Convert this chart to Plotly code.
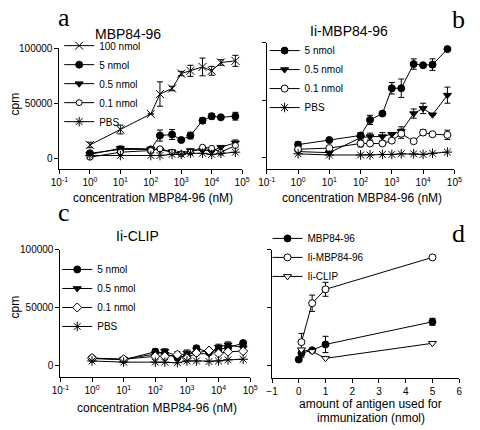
import plotly.graph_objects as go

# ---------------- data ----------------
conc = [1, 10, 100, 200, 500, 1000, 2000, 5000, 10000, 20000, 60000]

# panel a: MBP84-96
a_100 = [12500, 26500, 40500, 58500, 63500, 77000, 79500, 83000, 79500, 87000, 88500]
a_100_err = [2500, 4000, 0, 11000, 2000, 2000, 5000, 8000, 4000, 2500, 5000]
a_5 = [5000, 8500, 8500, 21000, 22000, 17000, 21000, 34500, 38500, 37500, 38500]
a_5_err = [0, 0, 0, 5000, 4500, 0, 3000, 2500, 2500, 0, 3500]
a_05 = [4000, 9500, 9000, 8000, 6500, 5000, 7500, 8000, 7000, 10500, 14500]
a_05_err = [0, 2000, 0, 0, 0, 0, 0, 0, 0, 0, 2500]
a_01 = [1500, 6000, 7500, 9000, 6000, 4500, 6000, 10500, 9500, 6000, 12000]
a_pbs = [3000, 3000, 3000, 3000, 4000, 4000, 5000, 5000, 4000, 5000, 6000]

# panel b: Ii-MBP84-96
b_5 = [11500, 15500, 19500, 33000, 38500, 60500, 60500, 81500, 80500, 81000, 94500]
b_5_err = [2500, 0, 2500, 4000, 0, 5000, 8000, 4500, 0, 5000, 0]
b_05 = [5500, 4500, 17500, 18500, 18500, 20500, 23000, 38500, 43000, 37500, 54500]
b_05_err = [0, 0, 0, 3000, 3500, 0, 4000, 4000, 4500, 0, 7000]
b_01 = [7500, 8500, 12500, 12500, 12500, 15000, 21000, 14500, 22000, 20500, 20000]
b_01_err = [0, 0, 3000, 0, 0, 0, 4000, 0, 2500, 0, 4000]
b_pbs = [3500, 2500, 2500, 2500, 3000, 3000, 3500, 3500, 3000, 4000, 5000]

# panel c: Ii-CLIP
c_5 = [6500, 5000, 12000, 10000, 7000, 8000, 15000, 11500, 14000, 15500, 19500]
c_5_err = [0, 0, 2500, 0, 0, 0, 2000, 0, 0, 0, 0]
c_05 = [6000, 5500, 10000, 12500, 8000, 11000, 10000, 10500, 16000, 18000, 15500]
c_05_err = [0, 2000, 3000, 2000, 0, 2500, 0, 0, 2500, 2500, 0]
c_01 = [6500, 5500, 8000, 8000, 9500, 6500, 11000, 13000, 10500, 12000, 12500]
c_01_err = [0, 0, 0, 0, 2500, 0, 2000, 0, 0, 0, 0]
c_pbs = [4000, 3000, 3000, 3000, 2500, 4000, 4000, 3500, 4000, 5000, 5500]

# panel d: dose response
d_mbp_x = [0, 0.1, 0.5, 1, 5]
d_mbp = [5500, 11000, 13500, 18500, 38000]
d_mbp_err = [0, 3500, 0, 7000, 3000]
d_iimbp_x = [0.1, 0.5, 1, 5]
d_iimbp = [20500, 54000, 66000, 93500]
d_iimbp_err = [7500, 7000, 6000, 0]
d_clip_x = [0.1, 0.5, 1, 5]
d_clip = [14000, 12500, 6500, 19500]

log_tickvals = [0.1, 1, 10, 100, 1000, 10000, 100000]
log_ticktext = ["10<sup>-1</sup>", "10<sup>0</sup>", "10<sup>1</sup>", "10<sup>2</sup>",
                "10<sup>3</sup>", "10<sup>4</sup>", "10<sup>5</sup>"]
cpm_tickvals = [0, 50000, 100000]
cpm_ticktext = ["0", "50000", "100000"]
d_tickvals = [-1, 0, 1, 2, 3, 4, 5, 6]

FONT = "Liberation Sans, Arial, sans-serif"
SERIF = "Liberation Serif, Times New Roman, serif"
W, H = 480, 430

fig = go.Figure()


def add(xa, ya, x, y, err, name, symbol, legend, fill="black", size=7):
    fig.add_trace(go.Scatter(
        x=x, y=y, mode="lines+markers", name=name, xaxis=xa, yaxis=ya, legend=legend,
        line=dict(color="black", width=1),
        marker=dict(symbol=symbol, size=size, color=fill, line=dict(color="black", width=1)),
        error_y=dict(type="data", array=err if err is not None else [0] * len(y),
                     visible=err is not None, color="black", thickness=1, width=3),
        cliponaxis=False,
    ))


# panel a
add("x", "y", conc, a_100, a_100_err, "100 nmol", "x-thin-open", "legend", size=8)
add("x", "y", conc, a_5, a_5_err, "5 nmol", "circle", "legend")
add("x", "y", conc, a_05, a_05_err, "0.5 nmol", "triangle-down", "legend")
add("x", "y", conc, a_01, None, "0.1 nmol", "circle", "legend", fill="white", size=6)
add("x", "y", conc, a_pbs, None, "PBS", "asterisk-open", "legend", size=8)
# panel b
add("x2", "y2", conc, b_5, b_5_err, "5 nmol", "circle", "legend2")
add("x2", "y2", conc, b_05, b_05_err, "0.5 nmol", "triangle-down", "legend2")
add("x2", "y2", conc, b_01, b_01_err, "0.1 nmol", "circle", "legend2", fill="white")
add("x2", "y2", conc, b_pbs, None, "PBS", "asterisk-open", "legend2", size=8)
# panel c
add("x3", "y3", conc, c_5, c_5_err, "5 nmol", "circle", "legend3")
add("x3", "y3", conc, c_05, c_05_err, "0.5 nmol", "triangle-down", "legend3")
add("x3", "y3", conc, c_01, c_01_err, "0.1 nmol", "diamond", "legend3", fill="white")
add("x3", "y3", conc, c_pbs, None, "PBS", "asterisk-open", "legend3", size=8)
# panel d
add("x4", "y4", d_mbp_x, d_mbp, d_mbp_err, "MBP84-96", "circle", "legend4")
add("x4", "y4", d_iimbp_x, d_iimbp, d_iimbp_err, "Ii-MBP84-96", "circle", "legend4", fill="white")
add("x4", "y4", d_clip_x, d_clip, None, "Ii-CLIP", "triangle-down", "legend4", fill="white")


def px_x(p):
    return p / W


def px_y(p):
    return 1 - p / H


axis_common = dict(showline=True, linecolor="black", linewidth=1, ticks="outside", ticklen=4,
                   tickcolor="black", tickwidth=1, showgrid=False, zeroline=False,
                   tickfont=dict(family=FONT, size=10, color="black"))

fig.update_layout(
    width=W, height=H, margin=dict(l=0, r=0, t=0, b=0),
    paper_bgcolor="white", plot_bgcolor="white",
    font=dict(family=FONT, color="black"),
    xaxis=dict(type="log", range=[-1, 5], domain=[px_x(52.3), px_x(241.7)], anchor="y",
               tickvals=log_tickvals, ticktext=log_ticktext, **axis_common),
    yaxis=dict(range=[-9530, 100000], domain=[px_y(165.7), px_y(42.7)], anchor="x",
               tickvals=cpm_tickvals, ticktext=cpm_ticktext, **axis_common),
    xaxis2=dict(type="log", range=[-1, 5], domain=[px_x(267.3), px_x(461.7)], anchor="y2",
                tickvals=log_tickvals, ticktext=log_ticktext, **axis_common),
    yaxis2=dict(range=[-10000, 100000], domain=[px_y(165.7), px_y(37.3)], anchor="x2",
                tickvals=cpm_tickvals, showticklabels=False, **axis_common),
    xaxis3=dict(type="log", range=[-1, 5], domain=[px_x(53.3), px_x(250)], anchor="y3",
                tickvals=log_tickvals, ticktext=log_ticktext, **axis_common),
    yaxis3=dict(range=[-9880, 100000], domain=[px_y(376.3), px_y(247.3)], anchor="x3",
                tickvals=cpm_tickvals, ticktext=cpm_ticktext, **axis_common),
    xaxis4=dict(range=[-1, 6], domain=[px_x(272.7), px_x(466.7)], anchor="y4",
                tickvals=d_tickvals, **axis_common),
    yaxis4=dict(range=[-10450, 100000], domain=[px_y(377.3), px_y(247.3)], anchor="x4",
                tickvals=cpm_tickvals, showticklabels=False, **axis_common),
)

leg_common = dict(xanchor="left", yanchor="top", bgcolor="rgba(0,0,0,0)", borderwidth=0,
                  font=dict(family=FONT, size=10, color="black"), tracegroupgap=0,
                  itemwidth=30, itemclick=False, itemdoubleclick=False)
fig.update_layout(
    legend=dict(x=px_x(52), y=px_y(25.5), **leg_common),
    legend2=dict(x=px_x(265), y=px_y(30.5), **leg_common),
    legend3=dict(x=px_x(50), y=px_y(252.5), **leg_common),
    legend4=dict(x=px_x(268), y=px_y(221), **leg_common),
)

annots = [
    ("MBP84-96", 123, 28, 14, FONT, 0),
    ("Ii-MBP84-96", 352, 25.5, 14, FONT, 0),
    ("Ii-CLIP", 133, 233.5, 14, FONT, 0),
    ("concentration MBP84-96 (nM)", 149, 195, 12, FONT, 0),
    ("concentration MBP84-96 (nM)", 366, 195, 12, FONT, 0),
    ("concentration MBP84-96 (nM)", 153, 407.5, 12, FONT, 0),
    ("amount of antigen used for", 375, 404, 12, FONT, 0),
    ("immunization (nmol)", 375, 418, 12, FONT, 0),
    ("cpm", 6, 99, 12, FONT, -90),
    ("cpm", 6, 305, 12, FONT, -90),
    ("a", 57.5, 12, 26, SERIF, 0),
    ("b", 466, 14, 26, SERIF, 0),
    ("c", 57.5, 209, 26, SERIF, 0),
    ("d", 466, 231, 26, SERIF, 0),
]
for text, x, y, size, fam, ang in annots:
    fig.add_annotation(text=text, x=px_x(x), y=px_y(y), xref="paper", yref="paper",
                       xanchor="center", yanchor="middle", showarrow=False, textangle=ang,
                       font=dict(family=fam, size=size, color="black"))

# remove the browser's default page margin so the 480x430 figure fills the window
fig.write_html("out.html",
               config={"staticPlot": True, "displayModeBar": False},
               post_script="document.body.style.margin='0px';document.body.style.overflow='hidden';")
